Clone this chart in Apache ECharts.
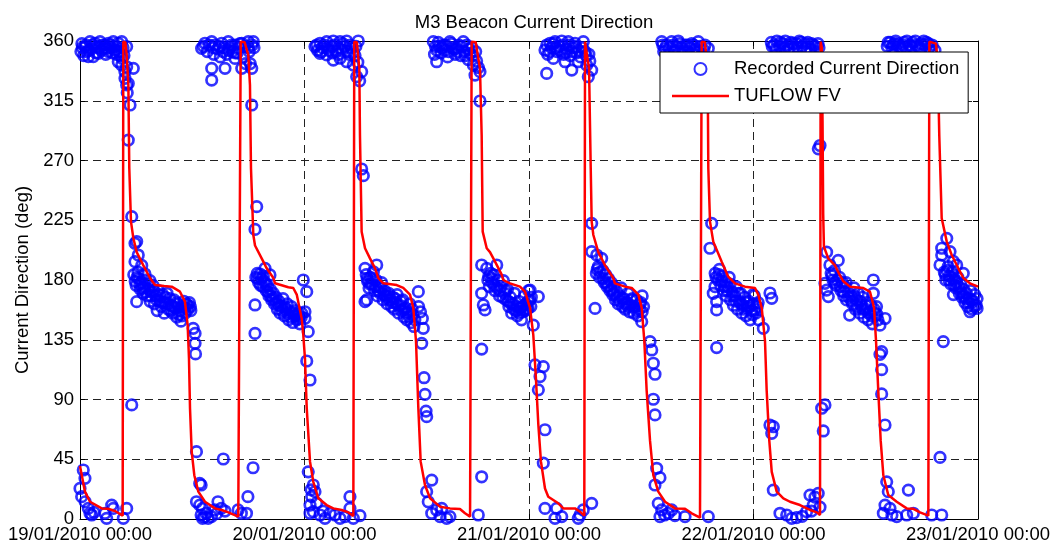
<!DOCTYPE html>
<html>
<head>
<meta charset="utf-8">
<title>M3 Beacon Current Direction</title>
<script src="https://cdn.jsdelivr.net/npm/echarts@6/dist/echarts.min.js"></script>
<style>
  html, body { margin: 0; padding: 0; background: #fff; }
  #chart { width: 1061px; height: 548px; }
</style>
</head>
<body>
<div id="chart"></div>
<script>
// Time axis is in hours after 19/01/2010 00:00; one label per day.
const tickLabels = ['19/01/2010 00:00', '20/01/2010 00:00', '21/01/2010 00:00', '22/01/2010 00:00', '23/01/2010 00:00'];
const dirTicks = [0, 45, 90, 135, 180, 225, 270, 315, 360];

// TUFLOW FV modelled direction: [hours, degrees]
const modelTrace = [
  // ebb tail, turn to flood (cycle 1)
  [0, 40], [0.53, 20.6], [1.07, 13], [2.32, 8], [2.99, 7.7], [3.74, 6], [4.56, 2.5], [4.63, 359.5],
  [4.85, 359], [4.99, 349.5], [5.17, 327], [5.27, 264], [5.45, 224], [5.7, 211.6], [6.06, 201], [6.77, 191],
  [7.48, 181.5], [8.02, 176.2], [9.0, 175.5], [9.8, 175], [10.69, 171.2], [11.22, 163.7], [11.51, 146],
  [11.65, 121], [11.76, 83.4], [11.94, 50.7], [12.22, 33], [12.65, 20.6], [13.36, 13], [14.43, 8],
  [15.15, 6.8], [15.85, 5], [16.92, 1.8],
  // cycle 2
  [17.18, 359.5], [17.6, 359], [17.99, 349.5], [18.17, 327], [18.28, 264], [18.53, 213.9], [18.71, 206],
  [19.6, 193.8], [19.96, 188.8], [20.67, 181.5], [20.85, 177.5], [22.27, 174.5], [22.8, 174], [23.17, 169],
  [23.7, 151], [23.87, 138.6], [24.05, 121], [24.24, 83.4], [24.59, 43.2], [24.94, 28], [25.48, 15.6],
  [26.37, 10.5], [27.08, 8], [27.98, 6.8], [28.68, 5], [29.22, 2.3],
  // cycle 3
  [29.32, 359.5], [29.6, 359], [29.86, 339.4], [29.93, 289], [30.11, 216.4], [30.47, 203.9], [31.0, 196.3],
  [31.54, 188.8], [31.89, 181.5], [32.42, 177.5], [33.86, 176.2], [34.56, 174], [35.28, 169], [35.63, 159],
  [35.92, 134], [36.17, 83.4], [36.42, 43.2], [36.88, 25.6], [37.42, 15.6], [38.48, 9.3], [39.55, 8],
  [40.62, 7.5], [41.16, 4.3], [41.7, 1.8],
  // cycle 4
  [41.87, 359.5], [42.3, 359], [42.76, 339.4], [42.94, 289], [43.05, 216.4], [43.48, 203.9], [43.83, 201],
  [44.37, 193.8], [45.08, 184], [45.25, 180], [45.97, 177.5], [47.04, 175], [47.57, 171.2], [48.11, 159],
  [48.46, 138.6], [48.72, 108.5], [49.0, 70.8], [49.28, 43.2], [49.71, 23], [50.06, 16.8], [51.13, 11.8],
  [51.67, 8], [52.92, 8], [53.45, 5.5], [53.91, 2.5],
  // cycle 5
  [53.99, 359.5], [54.2, 359], [54.42, 339.4], [54.6, 264], [54.7, 224], [54.88, 213.9], [55.41, 201],
  [56.13, 191], [57.01, 181.5], [57.19, 177.5], [58.26, 175], [58.98, 174], [59.69, 169], [60.05, 159],
  [60.33, 134], [60.58, 96.5], [60.94, 58.8], [61.29, 33], [61.82, 20.6], [62.54, 13], [63.61, 8],
  [64.68, 7.7], [65.39, 4.3], [66.28, 1],
  // cycle 6
  [66.46, 359.5], [66.8, 359], [67.1, 339.4], [67.17, 264], [67.35, 224], [67.7, 208.9], [68.6, 193.8],
  [69.3, 182.5], [70.02, 177.5], [71.09, 175], [72.16, 174], [72.51, 169], [72.88, 159], [73.23, 134],
  [73.41, 96.5], [73.69, 58.8], [73.95, 35.5], [74.48, 20.6], [75.19, 15.6], [75.9, 13], [76.97, 10.5],
  [78.04, 6.8], [78.76, 5], [79.11, 3],
  // cycle 7
  [79.18, 359.5], [79.3, 355], [79.38, 300], [79.45, 230], [79.53, 205], [79.99, 196.3], [80.71, 191],
  [81.2, 184], [81.6, 179], [82.32, 175], [83.74, 174], [84.46, 171], [84.89, 159], [85.1, 134],
  [85.34, 96.5], [85.6, 58.8], [85.88, 33], [86.41, 18], [87.31, 13], [88.38, 8], [89.09, 7.7],
  [89.8, 5], [90.69, 2.5],
  // cycle 8
  [90.8, 359.5], [91.5, 358], [91.7, 345], [91.86, 289], [92.12, 226.5], [92.66, 208.9], [93.19, 198.8],
  [93.9, 188.8], [94.43, 181.5], [94.61, 180], [95.14, 177.5], [96, 175]
];

// Recorded current direction at the M3 beacon: [hours, degrees]
const recordedObs = [
  // 19/01 early ebb
  [0.0, 23], [0.18, 16.8], [0.35, 36.9], [0.53, 30.6], [0.55, 13], [0.89, 8], [1.07, 4.3], [1.25, 3],
  [1.5, 5], [2.67, 4.3], [2.85, 0.5], [3.39, 10.5], [3.56, 8], [4.63, 0.5], [4.99, 8],
  [0.1, 352], [0.2, 358], [0.4, 349], [0.53, 355.8], [0.7, 352], [0.89, 348.2], [1.07, 359.5], [1.2, 354],
  [1.42, 348.2], [1.6, 358.3], [1.8, 356], [1.96, 350.7], [2.14, 359.5], [2.3, 353], [2.49, 354.5],
  [2.67, 357], [2.9, 354.5], [3.03, 358.3], [3.03, 352], [3.3, 355], [3.56, 359.5], [3.74, 353.2],
  [3.9, 350], [4.09, 358.3], [4.09, 344.4], [4.2, 352], [4.46, 359.5], [4.46, 341.9], [4.5, 347],
  [4.7, 349], [4.8, 337], [4.81, 331.9], [4.99, 355.8], [4.99, 340.6], [4.99, 326.9], [5.05, 321],
  [5.16, 328], [5.16, 285.4], [5.35, 311.8], [5.7, 339.4], [5.53, 227.7], [5.53, 85.9],
  [0.25, 355], [0.65, 357], [0.95, 353], [1.35, 357], [1.7, 351], [2.05, 355], [2.4, 357], [2.75, 350],
  [3.15, 357], [3.45, 351], [3.85, 356], [4.3, 349], [4.6, 355],
  // flood 1
  [5.88, 207.6], [6.06, 209], [6.23, 198.8], [5.88, 193.8], [6.6, 191], [6.95, 184.5], [7.48, 179.5], [6.06, 163.7],
  [5.75, 184], [5.9, 179], [6.0, 176], [6.2, 186], [6.3, 181], [6.45, 173], [6.6, 178], [6.75, 170],
  [6.9, 175], [7.05, 180], [7.2, 168], [7.35, 173], [7.5, 164], [7.65, 171], [7.8, 176], [7.95, 162],
  [8.1, 168], [8.25, 157], [8.4, 172], [8.55, 164], [8.7, 160], [8.85, 169], [9.0, 155], [9.15, 163],
  [9.3, 170], [9.45, 158], [9.6, 166], [9.75, 161], [9.9, 155], [10.05, 165], [10.2, 159], [10.35, 152],
  [10.5, 162], [10.65, 157], [10.8, 149], [10.95, 160], [11.1, 164], [11.25, 155], [11.4, 162],
  [11.55, 158], [11.7, 163], [11.85, 157],
  [6.1, 182], [6.4, 177], [6.7, 174], [7.0, 171], [7.3, 177], [7.6, 168], [7.9, 172], [8.2, 165],
  [8.5, 169], [8.8, 163], [9.1, 167], [9.4, 162], [9.7, 157], [10.0, 160], [10.3, 163], [10.6, 154],
  [10.9, 153], [11.2, 159], [11.5, 161], [11.8, 160],
  [12.1, 143.6], [12.3, 139.8], [12.3, 132.3], [12.35, 124.3], [12.45, 50.7], [12.8, 26.8], [12.95, 25.6],
  [12.45, 13], [12.8, 10.5], [13.1, 8], [12.95, 3], [13.5, 4.3], [13.7, 0.5], [14.05, 1.8], [14.75, 13],
  [15.1, 8], [15.32, 45.2], [14.4, 6.8], [13.1, 0.5], [13.3, 1.5], [14.6, 4], [15.5, 6],
  [16.9, 6.8], [17.25, 4.3], [17.8, 4.3], [17.95, 16.8], [18.5, 38.6],
  // ebb 2 (northerly)
  [13.0, 354.5], [13.36, 358.3], [14.08, 359.5], [14.43, 357], [15.15, 358.3], [15.85, 359.5], [16.57, 357],
  [17.29, 358.3], [17.99, 359.5], [18.53, 359.5], [14.08, 339.4], [14.08, 330.6], [15.5, 339.4],
  [16.57, 346.9], [17.29, 339.4], [18.36, 339.4], [18.36, 311.8], [18.89, 235.2], [18.71, 218.1],
  [13.6, 352], [14.3, 350], [14.7, 354], [15.0, 348], [15.3, 352], [15.7, 350], [16.0, 355], [16.3, 352],
  [16.8, 351], [17.0, 355], [17.5, 348], [17.7, 343], [18.1, 352], [18.2, 343], [18.6, 355],
  [13.2, 356], [13.8, 357], [14.2, 355], [14.9, 356], [15.4, 355], [15.9, 353], [16.2, 357], [16.6, 351],
  [17.1, 358], [17.6, 356], [18.0, 355], [18.4, 357],
  // flood 2
  [19.24, 184.5], [19.78, 188.8], [20.31, 183.8], [18.71, 161.2], [18.71, 139.8],
  [18.8, 182], [18.95, 185], [19.1, 178], [19.4, 181], [19.55, 175], [19.7, 179], [19.9, 172], [20.05, 176],
  [20.2, 168], [20.35, 173], [20.5, 165], [20.65, 170], [20.8, 162], [20.95, 167], [21.1, 158], [21.25, 164],
  [21.4, 155], [21.55, 160], [21.7, 166], [21.85, 153], [22.0, 158], [22.15, 162], [22.3, 150], [22.45, 156],
  [22.6, 160], [22.75, 148], [22.9, 153], [23.05, 157], [23.2, 150], [23.35, 155], [23.5, 147], [23.65, 152],
  [19.0, 181], [19.3, 176], [19.6, 183], [19.85, 177], [20.1, 171], [20.4, 168], [20.7, 166], [21.0, 163],
  [21.3, 161], [21.6, 157], [21.9, 160], [22.2, 155], [22.5, 152], [22.8, 155], [23.1, 153], [23.4, 151],
  [23.7, 155],
  [23.87, 180], [24.24, 171.2], [24.05, 156.1], [24.05, 151.1], [24.4, 141.1], [24.24, 119], [24.59, 104.7],
  [24.4, 35.5], [24.94, 25.6], [25.12, 20.6], [24.77, 16.8], [24.59, 10.5], [24.94, 5.5], [24.59, 4.3],
  [25.66, 3], [26.19, 0.5], [26.73, 4.3], [27.26, 3], [27.8, 0.5], [28.33, 1.8], [28.86, 16.8], [28.86, 8],
  [29.22, 0.5], [29.93, 2.5], [24.7, 22], [25.3, 12], [26.0, 6],
  // ebb 3
  [25.12, 355.8], [25.66, 358.3], [26.37, 359.5], [27.08, 360], [27.8, 359.5], [28.51, 360], [29.75, 360],
  [25.66, 350.7], [26.37, 349.5], [27.08, 345.6], [27.8, 347], [28.51, 344.4], [29.22, 341.9],
  [29.58, 333.1], [30.11, 336.9], [30.11, 263.6], [30.29, 258.6],
  [25.4, 353], [25.9, 355], [26.6, 353], [26.9, 356], [27.4, 352], [27.6, 355], [28.0, 353], [28.3, 356],
  [28.8, 350], [29.0, 355], [29.4, 349], [29.7, 344], [29.9, 330],
  [25.3, 357], [25.8, 352], [26.1, 357], [26.5, 355], [27.0, 351], [27.2, 357], [27.6, 350], [28.1, 358],
  [28.6, 352], [28.9, 357], [29.2, 352], [29.5, 356],
  // flood 3
  [30.47, 188.8], [31.72, 191.3], [31.36, 186.2], [30.47, 163.7], [30.65, 165],
  [30.6, 184], [30.75, 179], [30.9, 174], [31.05, 182], [31.2, 177], [31.5, 172], [31.65, 180], [31.8, 168],
  [31.95, 175], [32.1, 170], [32.25, 178], [32.4, 165], [32.55, 172], [32.7, 168], [32.85, 162], [33.0, 170],
  [33.15, 165], [33.3, 160], [33.45, 167], [33.6, 158], [33.75, 163], [33.9, 169], [34.05, 155], [34.2, 161],
  [34.35, 157], [34.5, 165], [34.65, 152], [34.8, 159], [34.95, 150], [35.1, 156], [35.25, 162], [35.4, 148],
  [35.55, 154], [35.7, 145], [36.2, 160], [36.4, 156], [36.6, 151],
  [30.7, 181], [31.0, 177], [31.3, 181], [31.6, 175], [31.9, 172], [32.2, 174], [32.5, 169], [32.8, 166],
  [33.1, 168], [33.4, 163], [33.7, 166], [34.0, 161], [34.3, 164], [34.6, 158], [34.9, 155], [35.2, 152],
  [35.5, 158], [35.8, 150],
  [36.17, 171.2], [36.7, 143.6], [36.53, 132.3], [36.78, 106.4], [36.88, 93.9], [36.99, 81.3], [37.06, 77.1],
  [37.6, 29.3], [37.06, 20.6], [37.23, 13], [37.6, 4.3], [38.13, 6.8], [38.67, 8], [38.49, 1.8], [39.55, 1.8],
  [39.2, 0.5], [42.58, 3], [42.94, 31.8], [42.94, 128],
  // ebb 4
  [37.77, 359.5], [38.13, 353.2], [38.13, 344.4], [38.84, 357], [39.55, 359.5], [40.27, 354.5], [40.98, 359.5],
  [41.34, 357], [41.69, 350.7], [42.05, 341.9], [42.76, 336.9], [42.23, 334.3], [42.76, 314.8],
  [37.9, 350], [38.4, 356], [38.6, 351], [39.0, 353], [39.3, 348], [39.8, 355], [40.1, 350], [40.5, 357],
  [40.7, 349], [41.1, 352], [41.5, 346], [41.9, 355], [42.4, 345], [42.6, 340],
  [38.0, 356], [38.3, 359], [38.7, 355], [39.1, 357], [39.4, 352], [39.7, 358], [40.0, 354], [40.4, 352],
  [40.8, 356], [41.2, 349], [41.6, 354], [42.0, 349], [42.3, 352],
  // flood 4
  [42.94, 191.3], [43.48, 188.8], [44.55, 191.3], [44.19, 183.8], [45.26, 179.5], [43.12, 161.2], [43.3, 157.5],
  [42.94, 170],
  [43.6, 180], [43.75, 175], [43.9, 185], [44.05, 178], [44.35, 172], [44.7, 180], [44.85, 168], [45.0, 175],
  [45.4, 170], [45.55, 165], [45.7, 173], [45.85, 160], [46.0, 167], [46.15, 155], [46.3, 162], [46.45, 170],
  [46.6, 157], [46.75, 153], [46.9, 164], [47.05, 159], [47.2, 150], [47.35, 156], [47.5, 168], [47.65, 162],
  [47.8, 158], [47.95, 172], [48.1, 165], [48.25, 167],
  [43.7, 183], [44.0, 181], [44.3, 176], [44.6, 174], [44.9, 172], [45.2, 167], [45.5, 172], [45.8, 164],
  [46.1, 162], [46.4, 158], [46.7, 160], [47.0, 155], [47.3, 160], [47.6, 157], [47.9, 164], [48.2, 160],
  [48.11, 172.4], [49.0, 167.5], [48.46, 146], [47.9, 158.6], [48.64, 116.1], [49.53, 114.8], [49.18, 107.3],
  [49.0, 97.3], [49.71, 67.2], [49.53, 42.1], [49.71, 8], [50.96, 8], [50.78, 0.5], [51.5, 1.8], [53.45, 3],
  [53.8, 6.8], [54.7, 11.8], [53.27, 0.5],
  // ebb 5
  [49.71, 353.2], [50.25, 358.3], [50.78, 359.5], [51.5, 360], [52.2, 359.5], [52.92, 358.3], [53.81, 359.5],
  [49.89, 335.6], [50.6, 346.9], [51.85, 344.4], [52.57, 338.1], [53.27, 344.4], [54.17, 341.9],
  [54.7, 338.1], [54.34, 333.1], [54.7, 222.7],
  [50.0, 350], [50.4, 355], [51.0, 352], [51.2, 356], [51.7, 350], [52.0, 354], [52.4, 349], [52.7, 355],
  [53.1, 351], [53.5, 348], [54.0, 352], [54.5, 345],
  [49.9, 357], [50.2, 352], [50.6, 358], [50.9, 355], [51.3, 353], [51.6, 357], [51.9, 351], [52.3, 357],
  [52.6, 352], [53.0, 356], [53.3, 353], [53.7, 355], [54.1, 349], [54.4, 350],
  // flood 5
  [54.7, 201.4], [55.24, 198.8], [55.77, 196.3], [55.06, 158.6],
  [55.2, 185], [55.4, 190], [55.55, 182], [55.9, 187], [56.05, 178], [56.2, 184], [56.35, 175], [56.5, 181],
  [56.65, 172], [56.8, 178], [56.95, 169], [57.1, 175], [57.25, 165], [57.4, 171], [57.55, 162], [57.7, 168],
  [57.85, 174], [58.0, 160], [58.15, 166], [58.3, 158], [58.45, 163], [58.6, 170], [58.75, 156], [58.9, 161],
  [59.05, 166], [59.2, 155], [59.35, 160], [59.5, 165], [59.65, 153], [59.8, 158], [59.95, 163], [60.1, 168],
  [60.25, 160],
  [55.3, 188], [55.6, 186], [55.9, 181], [56.2, 178], [56.5, 176], [56.8, 173], [57.1, 170], [57.4, 167],
  [57.7, 164], [58.0, 166], [58.3, 162], [58.6, 160], [58.9, 165], [59.2, 160], [59.5, 157], [59.8, 162],
  [60.1, 156],
  [60.05, 148.6], [60.94, 133.6], [61.12, 127.3], [61.29, 117.3], [61.47, 109], [61.29, 90.2], [61.47, 78.4],
  [61.65, 38.2], [62.0, 31.1], [61.47, 25.6], [61.82, 11.8], [62.19, 6.8], [62.9, 4.3], [62.0, 1.8],
  [63.25, 6.8], [64.68, 1.8], [67.17, 1.8], [62.5, 3], [63.6, 2.5],
  // ebb 6
  [62.19, 359.5], [62.54, 354.5], [63.25, 359.5], [63.96, 360], [64.68, 357], [65.39, 358], [66.1, 359.5],
  [66.81, 357], [67.17, 354.5], [62.9, 349.5], [62.4, 352], [63.6, 352], [64.3, 355], [65.0, 352],
  [65.8, 354], [66.5, 350], [67.0, 346], [67.53, 222.7], [67.35, 203.9],
  [62.3, 357], [62.7, 357], [63.0, 355], [63.4, 357], [63.8, 356], [64.1, 358], [64.5, 352], [64.9, 357],
  [65.2, 355], [65.6, 357], [65.9, 352], [66.3, 356], [66.7, 353],
  // flood 6
  [67.88, 175], [67.7, 170], [68.06, 163.7], [68.06, 157.5], [68.06, 129.1],
  [67.9, 185], [68.2, 180], [68.35, 188], [68.5, 176], [68.65, 183], [68.8, 172], [68.95, 179], [69.1, 168],
  [69.25, 175], [69.4, 182], [69.55, 165], [69.7, 171], [69.85, 161], [70.0, 168], [70.15, 175], [70.3, 158],
  [70.45, 164], [70.6, 170], [70.75, 155], [70.9, 161], [71.05, 167], [71.2, 153], [71.35, 159], [71.5, 164],
  [71.65, 150], [71.8, 157], [71.95, 162], [72.1, 168], [72.25, 155], [72.4, 160], [72.55, 150],
  [68.0, 182], [68.3, 184], [68.6, 179], [68.9, 175], [69.2, 172], [69.5, 177], [69.8, 168], [70.1, 164],
  [70.4, 170], [70.7, 162], [71.0, 158], [71.3, 163], [71.6, 160], [71.9, 154], [72.2, 158], [72.5, 163],
  [71.95, 169], [73.76, 170.2], [73.95, 166.2], [73.05, 143.6], [73.76, 70.8], [74.12, 69.5], [73.95, 64.5],
  [74.12, 21.8], [74.83, 4.3], [75.55, 3], [76.08, 0.5], [76.6, 1], [77.67, 5.5], [78.04, 18], [78.57, 16.5],
  [78.92, 19.3], [78.39, 10.5], [79.11, 9], [77.2, 2], [78.2, 6],
  // ebb 7
  [73.9, 359], [74.2, 357], [74.5, 360], [74.8, 356], [75.1, 358], [75.4, 360], [75.7, 357], [76.0, 359],
  [76.3, 355], [76.6, 358], [76.9, 360], [77.2, 356], [77.5, 358], [77.8, 359], [78.1, 354], [78.4, 357],
  [78.7, 352], [79.0, 355], [75.0, 350], [76.5, 348], [78.0, 345],
  [74.0, 356], [74.4, 354], [74.9, 359], [75.3, 355], [75.8, 354], [76.2, 358], [76.7, 355], [77.1, 359],
  [77.6, 355], [78.2, 358], [78.6, 356], [78.9, 358],
  [79.11, 281.3], [78.93, 278.8], [79.29, 83.4], [79.64, 85.9], [79.46, 66.3],
  // flood 7
  [79.82, 201], [81.06, 194.8], [80.17, 191.3], [79.64, 177.5], [79.82, 172.4], [80.0, 167.5],
  [80.3, 185], [80.5, 180], [80.65, 187], [80.85, 176], [81.2, 182], [81.35, 172], [81.5, 178], [81.65, 168],
  [81.8, 175], [81.95, 165], [82.1, 171], [82.45, 168], [82.6, 162], [82.75, 174], [82.9, 158], [83.05, 165],
  [83.2, 170], [83.35, 155], [83.5, 161], [83.65, 167], [83.8, 152], [83.95, 158], [84.1, 163], [84.25, 150],
  [84.4, 156], [84.55, 161], [84.7, 147], [85.0, 155], [85.15, 160], [85.3, 150],
  [80.4, 183], [80.7, 178], [81.0, 180], [81.3, 175], [81.6, 171], [81.9, 178], [82.2, 167], [82.5, 164],
  [82.8, 168], [83.1, 160], [83.4, 164], [83.7, 158], [84.0, 161], [84.3, 155], [84.6, 153], [84.9, 158],
  [85.2, 154],
  [84.81, 180], [84.81, 170], [82.28, 153.6], [86.06, 151], [85.52, 146], [85.7, 126], [85.52, 124],
  [85.7, 112.5], [85.7, 94.2], [86.06, 70.8], [86.24, 28], [86.41, 20.6], [86.06, 10.5], [85.88, 4.3],
  [86.59, 8], [87.31, 1.8], [88.38, 3], [88.56, 21.8], [89.09, 4.3], [86.8, 3],
  [91.05, 3], [92.12, 3], [91.94, 46.4], [92.29, 133.6],
  // ebb 8
  [86.3, 356], [86.6, 359], [86.9, 357], [87.2, 360], [87.5, 358], [87.8, 355], [88.1, 359], [88.4, 360],
  [88.7, 357], [89.0, 359], [89.3, 360], [89.6, 356], [89.9, 358], [90.2, 360], [90.5, 359], [90.8, 355],
  [91.1, 357], [91.4, 353], [87.0, 350], [88.5, 348], [90.0, 346], [91.2, 340],
  [86.4, 359], [86.8, 355], [87.1, 358], [87.6, 356], [88.0, 357], [88.3, 355], [88.9, 356], [89.4, 357],
  [89.8, 355], [90.3, 357], [90.7, 358], [91.0, 352],
  // flood 8
  [92.66, 211.4], [92.12, 203.9], [92.12, 198.8], [93.01, 201.4], [91.94, 191.3], [93.37, 194], [93.72, 191.3],
  [94.43, 185], [93.37, 169], [95.14, 156.1], [95.9, 158.6],
  [92.4, 186], [92.55, 180], [92.8, 190], [92.95, 183], [93.1, 177], [93.25, 186], [93.5, 180], [93.65, 174],
  [93.85, 182], [94.0, 170], [94.15, 177], [94.3, 167], [94.45, 173], [94.6, 163], [94.75, 170], [94.9, 160],
  [95.05, 166], [95.2, 172], [95.35, 158], [95.5, 164], [95.65, 169], [95.8, 161], [95.9, 166],
  [92.5, 184], [92.7, 187], [92.9, 180], [93.2, 182], [93.45, 176], [93.7, 178], [93.95, 175], [94.2, 171],
  [94.5, 168], [94.7, 166], [95.0, 163], [95.3, 165], [95.6, 160]
];

const FONT = "'Liberation Sans', Arial, Helvetica, sans-serif";
const FS = 18.5;
const gridDash = { color: '#222', width: 1, type: [8, 5] };
const hourMax = (tickLabels.length - 1) * 24;

const chart = echarts.init(document.getElementById('chart'), null, { renderer: 'canvas' });

const frameAxis = (extra) => Object.assign({
  type: 'value',
  axisLine: { show: true, onZero: false, lineStyle: { color: '#000', width: 1 } },
  axisTick: { show: true, inside: true, length: 5, lineStyle: { color: '#000' } },
  axisLabel: { show: false },
  splitLine: { show: false }
}, extra);

chart.setOption({
  animation: false,
  backgroundColor: '#fff',
  textStyle: { fontFamily: FONT },
  title: {
    text: 'M3 Beacon Current Direction',
    left: 529, top: 8, textAlign: 'center',
    textStyle: { fontFamily: FONT, fontSize: FS, fontWeight: 'normal', color: '#000' }
  },
  grid: { left: 80, right: 83, top: 41, bottom: 29, containLabel: false },
  legend: {
    orient: 'vertical',
    left: 660, top: 52,
    z: 10,
    backgroundColor: '#fff',
    borderColor: '#000', borderWidth: 1, borderRadius: 0,
    padding: [7, 9, 7, 12],
    itemWidth: 57, itemHeight: 12, itemGap: 7,
    symbolKeepAspect: true,
    textStyle: { fontFamily: FONT, fontSize: FS, color: '#000', lineHeight: 20 },
    data: [
      { name: 'Recorded Current Direction', icon: 'circle' },
      // a flat bar standing in for the model line
      { name: 'TUFLOW FV', icon: 'path://M0,0H57V2.5H0Z', itemStyle: { color: '#ff0000', borderWidth: 0 } }
    ]
  },
  xAxis: [
    frameAxis({
      position: 'bottom', min: 0, max: hourMax, interval: 24,
      axisLabel: {
        show: true, margin: 6, color: '#000', fontFamily: FONT, fontSize: FS,
        showMinLabel: true, showMaxLabel: true,
        formatter: (v) => tickLabels[Math.round(v / 24)]
      },
      splitLine: { show: true, lineStyle: gridDash }
    }),
    frameAxis({ position: 'top', min: 0, max: hourMax, interval: 24 })
  ],
  yAxis: [
    frameAxis({
      position: 'left', min: dirTicks[0], max: dirTicks[dirTicks.length - 1], interval: 45,
      name: 'Current Direction (deg)', nameLocation: 'middle', nameGap: 48, nameRotate: 90,
      nameTextStyle: { fontFamily: FONT, fontSize: FS, color: '#000' },
      axisLabel: { show: true, margin: 6, color: '#000', fontFamily: FONT, fontSize: FS },
      splitLine: { show: true, lineStyle: gridDash }
    }),
    frameAxis({ position: 'right', min: 0, max: 360, interval: 45 })
  ],
  series: [
    {
      name: 'Recorded Current Direction',
      type: 'scatter',
      data: recordedObs,
      symbol: 'circle',
      symbolSize: 10.5,
      itemStyle: { color: 'rgba(0,0,0,0)', borderColor: '#0000ff', borderWidth: 2.7 },
      emphasis: { disabled: true },
      z: 2
    },
    {
      name: 'TUFLOW FV',
      type: 'line',
      data: modelTrace,
      symbol: 'none',
      lineStyle: { color: '#ff0000', width: 2.5 },
      itemStyle: { color: '#ff0000' },
      emphasis: { disabled: true },
      z: 3
    }
  ]
});
</script>
</body>
</html>
